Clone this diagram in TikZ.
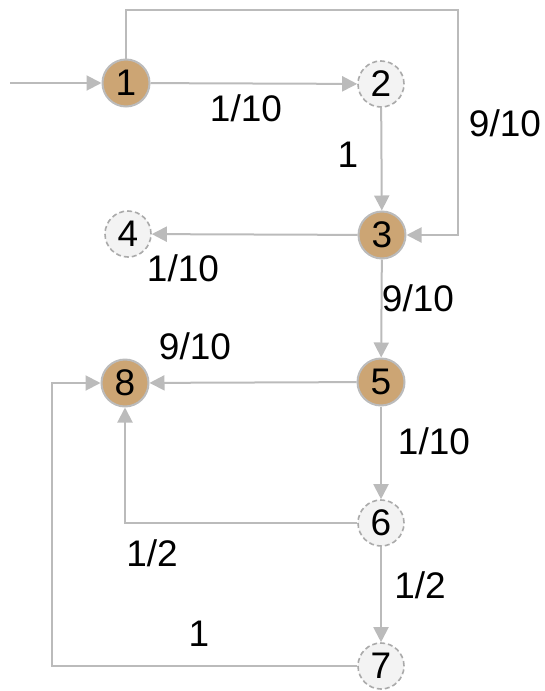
\documentclass[tikz,border=0pt]{standalone}
\usepackage{fontspec}
\setmainfont{Liberation Sans}
\usetikzlibrary{arrows.meta}
\definecolor{tan}{HTML}{CCA574}
\definecolor{ringgray}{HTML}{BBBBBB}
\definecolor{dashgray}{HTML}{AAAAAA}
\definecolor{pale}{HTML}{F3F3F3}
\definecolor{edgegray}{HTML}{BBBBBB}
\tikzset{
  every node/.style={font=\fontsize{37}{40}\selectfont, inner sep=0pt},
  solidstate/.style={circle, minimum size=47pt, fill=tan, draw=ringgray, line width=2pt},
  openstate/.style={circle, minimum size=46pt, fill=pale, draw=dashgray, line width=1.6pt, dash pattern=on 5pt off 3pt},
  edge/.style={draw=edgegray, line width=2pt, -{Triangle[length=15pt,width=15pt]}},
  lbl/.style={anchor=center}
}
\begin{document}
\begin{tikzpicture}[x=1pt,y=-1pt]
\useasboundingbox (0,0) rectangle (545,691);
\node[solidstate] (n1) at (126,83) {1};
\node[openstate] (n2) at (381,84) {2};
\node[solidstate] (n3) at (382,235) {3};
\node[openstate] (n4) at (128,234) {4};
\node[solidstate] (n5) at (381,382) {5};
\node[solidstate] (n8) at (125,383) {8};
\node[openstate] (n6) at (381,523) {6};
\node[openstate] (n7) at (381,666) {7};
\coordinate (start) at (10,83);
\coordinate (topL) at (126,10);
\coordinate (topR) at (458,10);
\coordinate (rightB) at (458,235);
\coordinate (corner6) at (125,523);
\coordinate (bl7) at (52,666);
\coordinate (tl7) at (52,383);

\draw[edge] (start) -- (n1);
\draw[edge] (n1) -- (n2);
\draw[edge] (n1.north) -- (topL) -- (topR) -- (rightB) -- (n3.east);
\draw[edge] (n2) -- (n3);
\draw[edge] (n3) -- (n4);
\draw[edge] (n3) -- (n5);
\draw[edge] (n5) -- (n8);
\draw[edge] (n5) -- (n6);
\draw[edge] (n6.west) -- (corner6) -- (n8.south);
\draw[edge] (n6) -- (n7);
\draw[edge] (n7.west) -- (bl7) -- (tl7) -- (n8.west);

\node[lbl] (l12) at (246,108) {1/10};
\node[lbl] (l13) at (505,123) {9/10};
\node[lbl] (l23) at (348,155) {1};
\node[lbl] (l34) at (183,268) {1/10};
\node[lbl] (l35) at (418,298) {9/10};
\node[lbl] (l58) at (195,346) {9/10};
\node[lbl] (l56) at (434,441) {1/10};
\node[lbl] (l68) at (152,553) {1/2};
\node[lbl] (l67) at (420,585) {1/2};
\node[lbl] (l78) at (199,634) {1};
\end{tikzpicture}
\end{document}
